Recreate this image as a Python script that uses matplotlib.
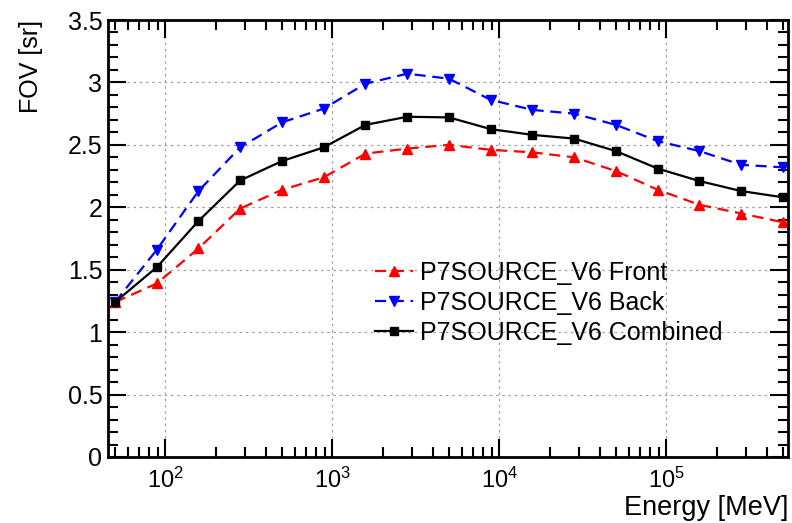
import numpy as np
import matplotlib
matplotlib.use("Agg")
import matplotlib.pyplot as plt
from matplotlib.ticker import MultipleLocator, LogLocator, NullFormatter

# energies (MeV), quarter-decade bins
energy = [50, 89, 158, 281, 500, 889, 1581, 2812, 5000, 8891,
          15811, 28117, 50000, 88914, 158114, 281170, 500000]

fov_front = [1.24, 1.39, 1.67, 1.99, 2.14, 2.24, 2.43, 2.47, 2.50, 2.46,
             2.44, 2.40, 2.29, 2.14, 2.02, 1.95, 1.88]
fov_back = [1.24, 1.66, 2.13, 2.48, 2.68, 2.79, 2.99, 3.07, 3.03, 2.86,
            2.78, 2.75, 2.66, 2.53, 2.45, 2.34, 2.32]
fov_comb = [1.24, 1.52, 1.89, 2.215, 2.37, 2.48, 2.66, 2.725, 2.72, 2.626,
            2.58, 2.55, 2.45, 2.31, 2.21, 2.13, 2.08]

labels = ["P7SOURCE_V6 Front", "P7SOURCE_V6 Back", "P7SOURCE_V6 Combined"]

plt.rcParams['font.family'] = ['Liberation Sans', 'DejaVu Sans']
plt.rcParams['mathtext.fontset'] = 'custom'
plt.rcParams['mathtext.rm'] = 'Liberation Sans'

dpi = 100
fig = plt.figure(figsize=(792 / dpi, 523 / dpi), dpi=dpi)
ax = fig.add_axes([108 / 792, 1 - 457 / 523, 680 / 792, 437 / 523])

ax.plot(energy, fov_front, color='red', ls=(0, (5, 3)), lw=1.6,
        marker='^', ms=7, label=labels[0])
ax.plot(energy, fov_back, color='blue', ls=(0, (5, 3)), lw=1.6,
        marker='v', ms=7, label=labels[1])
ax.plot(energy, fov_comb, color='black', ls='-', lw=1.6,
        marker='s', ms=5.5, label=labels[2])

ax.set_xscale('log')
ax.set_xlim(45.4, 5.36e5)
ax.set_ylim(0, 3.5)

ax.yaxis.set_major_locator(MultipleLocator(0.5))
ax.yaxis.set_minor_locator(MultipleLocator(0.1))
ax.xaxis.set_major_locator(LogLocator(base=10, numticks=10))
ax.xaxis.set_minor_locator(LogLocator(base=10, subs=np.arange(2, 10), numticks=20))
ax.xaxis.set_minor_formatter(NullFormatter())
ax.yaxis.set_major_formatter(plt.FuncFormatter(lambda v, p: ('%g' % v)))

ax.tick_params(which='both', direction='in', top=True, right=True, width=1.5)
ax.tick_params(which='major', length=13)
ax.tick_params(which='minor', length=7)
ax.tick_params(axis='y', which='major', pad=4, labelsize=18)
ax.tick_params(axis='x', which='major', pad=8, labelsize=17)

for s in ax.spines.values():
    s.set_linewidth(2)

ax.grid(True, which='major', color='#a0a0a0', ls=(0, (2, 3)), lw=0.9)

ax.set_xlabel('Energy [MeV]', fontsize=19.5, loc='right')
ax.xaxis.set_label_coords(1.0, -0.086)
ax.set_ylabel('FOV [sr]', fontsize=18, loc='top', labelpad=18)

ax.legend(loc='upper left', bbox_to_anchor=(0.378, 0.472),
          frameon=False, fontsize=18, handlelength=1.5, handletextpad=0.3,
          labelspacing=0.25, borderaxespad=0)

fig.savefig('out.png', dpi=dpi)
